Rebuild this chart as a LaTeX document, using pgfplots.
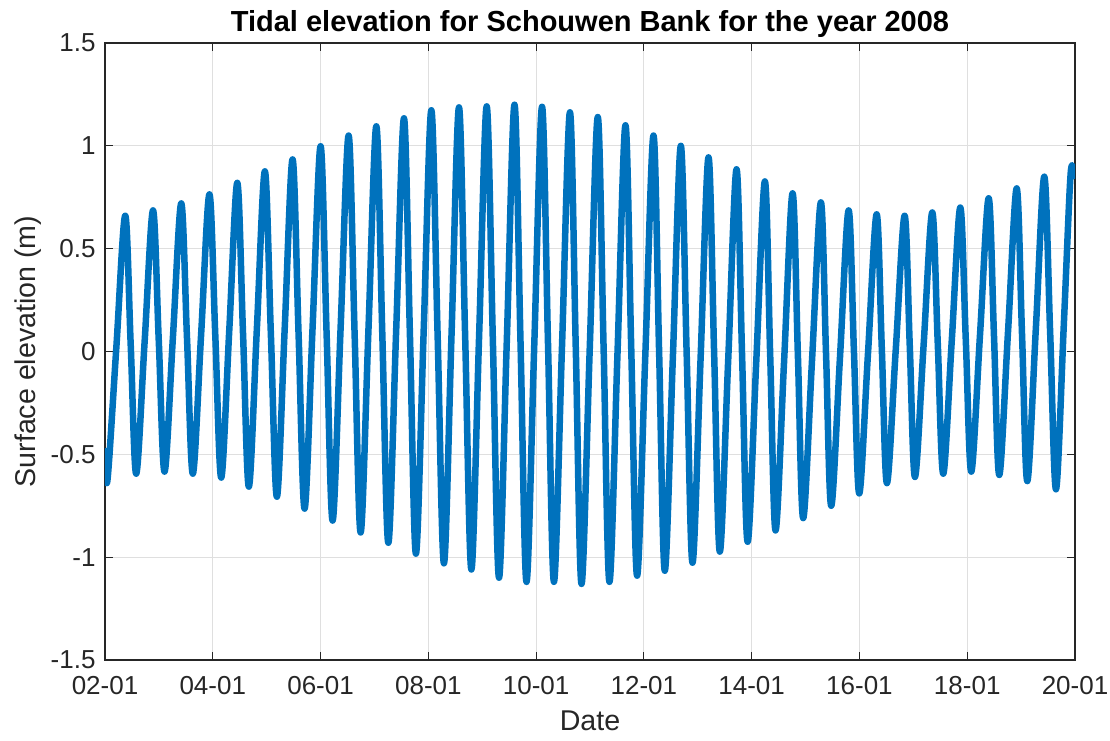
\documentclass[border=0pt]{standalone}
\usepackage{pgfplots}
\pgfplotsset{compat=1.18}
\usepackage{fontspec}
\setmainfont{Liberation Sans}
\definecolor{mblue}{RGB}{0,114,189}
\definecolor{mtext}{RGB}{38,38,38}
\definecolor{mgrid}{RGB}{223,223,223}
\begin{document}
\begin{tikzpicture}
\begin{axis}[
  scale only axis, width=970pt, height=617pt,
  at={(0pt,0pt)}, anchor=south west,
  xmin=2, xmax=20, ymin=-1.5, ymax=1.5,
  xtick={2,4,6,8,10,12,14,16,18,20},
  xticklabels={02-01,04-01,06-01,08-01,10-01,12-01,14-01,16-01,18-01,20-01},
  ytick={-1.5,-1,-0.5,0,0.5,1,1.5},
  yticklabels={-1.5,-1,-0.5,0,0.5,1,1.5},
  tick align=inside, major tick length=8pt,
  xtick pos=both, ytick pos=both,
  grid=major,
  major grid style={mgrid, line width=1pt},
  axis line style={mtext, line width=1.2pt},
  tick style={mtext, line width=1.2pt},
  ticklabel style={font=\fontsize{26}{30}\selectfont, text=mtext},
  xticklabel style={yshift=-13pt},
  yticklabel style={xshift=-6pt},
  title={Tidal elevation for Schouwen Bank for the year 2008},
  title style={font=\fontsize{29}{34}\selectfont\bfseries, text=black, at={(axis description cs:0.5,1.0205)}, anchor=center},
  xlabel={Date},
  xlabel style={font=\fontsize{28.6}{33}\selectfont, text=mtext, at={(axis description cs:0.5,-0.099)}, anchor=center},
  ylabel={Surface elevation (m)},
  ylabel style={font=\fontsize{28.6}{33}\selectfont, text=mtext, at={(axis description cs:-0.0794,0.5)}, anchor=center, rotate=0},
]
\addplot[mblue, line width=6.5pt, line join=round, smooth, tension=0.55] coordinates {
(2.000,-0.47) (2.046,-0.625) (2.210,0.018) (2.375,0.66) (2.477,0.033)
(2.579,-0.594) (2.735,0.046) (2.891,0.686) (2.998,0.051)
(3.105,-0.584) (3.260,0.068) (3.415,0.72) (3.522,0.063)
(3.630,-0.594) (3.784,0.085) (3.938,0.764) (4.047,0.0755)
(4.157,-0.613) (4.306,0.1035) (4.455,0.82) (4.562,0.0815)
(4.670,-0.657) (4.818,0.1095) (4.967,0.876) (5.078,0.085)
(5.190,-0.706) (5.335,0.114) (5.481,0.934) (5.592,0.085)
(5.704,-0.764) (5.852,0.117) (6.001,0.998) (6.112,0.088)
(6.224,-0.822) (6.372,0.114) (6.521,1.05) (6.632,0.085)
(6.744,-0.88) (6.889,0.1075) (7.035,1.095) (7.146,0.0825)
(7.258,-0.93) (7.403,0.102) (7.548,1.134) (7.659,0.0755)
(7.770,-0.983) (7.913,0.095) (8.056,1.173) (8.173,0.0715)
(8.290,-1.03) (8.430,0.0785) (8.569,1.187) (8.684,0.0635)
(8.799,-1.06) (8.941,0.066) (9.083,1.192) (9.198,0.046)
(9.312,-1.10) (9.456,0.05) (9.599,1.20) (9.711,0.04)
(9.822,-1.12) (9.966,0.035) (10.110,1.19) (10.221,0.035)
(10.331,-1.12) (10.480,0.0215) (10.628,1.163) (10.736,0.0165)
(10.843,-1.13) (10.994,0.005) (11.144,1.14) (11.253,0.01)
(11.361,-1.12) (11.510,-0.01) (11.658,1.10) (11.766,0.005)
(11.874,-1.09) (12.026,-0.02) (12.178,1.05) (12.283,-0.008)
(12.388,-1.066) (12.537,-0.033) (12.685,1.00) (12.794,-0.0135)
(12.902,-1.027) (13.051,-0.0415) (13.199,0.944) (13.304,-0.0145)
(13.409,-0.973) (13.564,-0.0435) (13.719,0.886) (13.822,-0.0195)
(13.925,-0.925) (14.085,-0.049) (14.245,0.827) (14.344,-0.0215)
(14.443,-0.87) (14.601,-0.0505) (14.759,0.769) (14.858,-0.0205)
(14.956,-0.81) (15.120,-0.0425) (15.284,0.725) (15.380,-0.0125)
(15.476,-0.75) (15.638,-0.032) (15.799,0.686) (15.898,-0.002)
(15.996,-0.69) (16.158,-0.0115) (16.319,0.667) (16.415,0.0135)
(16.510,-0.64) (16.674,0.01) (16.838,0.66) (16.934,0.025)
(17.030,-0.61) (17.191,0.033) (17.351,0.676) (17.453,0.041)
(17.555,-0.594) (17.713,0.053) (17.871,0.70) (17.973,0.058)
(18.075,-0.584) (18.237,0.0805) (18.398,0.745) (18.497,0.0725)
(18.595,-0.60) (18.757,0.0965) (18.918,0.793) (19.017,0.0815)
(19.115,-0.63) (19.273,0.11) (19.430,0.85) (19.539,0.09)
(19.647,-0.67) (19.790,0.1175) (19.900,0.78) (19.945,0.905) (20.000,0.84)
};
\end{axis}
\pgfresetboundingbox
\path[use as bounding box] (-105pt,-80pt) rectangle (1005pt,660pt);
\end{tikzpicture}
\end{document}
